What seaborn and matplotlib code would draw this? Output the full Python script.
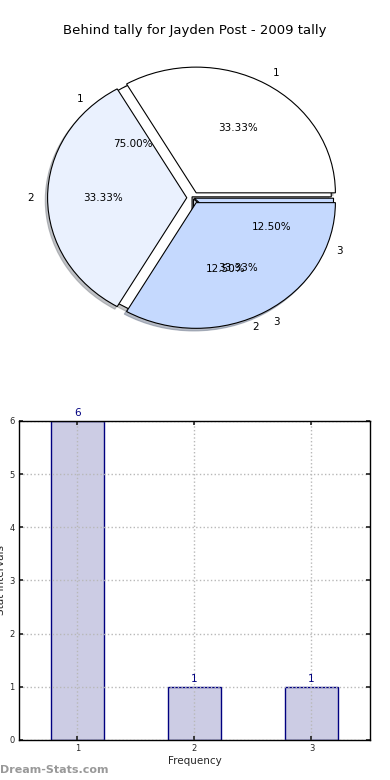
import matplotlib
matplotlib.use("Agg")
import matplotlib.pyplot as plt
import seaborn as sns
import pandas as pd

# ---- data ----
title = "Behind tally for Jayden Post - 2009 tally"
pie_a_labels = ["1", "2", "3"]
pie_a_values = [1, 1, 1]
pie_b_labels = ["1", "2", "3"]
pie_b_values = [6, 1, 1]
slice_colors = ["#ffffff", "#eaf1fe", "#c5d9fe"]

bar_categories = ["1", "2", "3"]
bar_values = [6, 1, 1]
x_label = "Frequency"
y_label = "Stat Intervals"
watermark = "Dream-Stats.com"

sns.set_theme(style="white")
plt.rcParams["font.family"] = ["DejaVu Sans"]

fig = plt.figure(figsize=(3.9, 7.8), dpi=100)

# ---- pie chart ----
ax1 = fig.add_axes([0.031, 0.537, 0.928, 0.419])
wp = dict(edgecolor="black", linewidth=0.8)
shadow = dict(ox=-0.012, oy=-0.015, shade=0.45)
ax1.pie(pie_b_values, labels=pie_b_labels, colors=slice_colors,
        explode=[0.01, 0.01, 0.01], autopct="%.2f%%", pctdistance=0.6,
        labeldistance=1.1, shadow=shadow, startangle=0, wedgeprops=wp,
        textprops=dict(fontsize=7.5, color="black"))
ax1.pie(pie_a_values, labels=pie_a_labels, colors=slice_colors,
        explode=[0.045, 0.045, 0.045], autopct="%.2f%%", pctdistance=0.6,
        labeldistance=1.1, shadow=shadow, startangle=0, wedgeprops=wp,
        textprops=dict(fontsize=7.5, color="black"))
ax1.set_aspect("auto")
ax1.set_xlim(-1.3, 1.3)
ax1.set_ylim(-1.3, 1.3)
ax1.axis("off")
fig.text(0.5, 0.961, title, ha="center", va="center", fontsize=9.5,
         color="black")

# ---- bar chart ----
ax2 = fig.add_axes([0.0487, 0.0513, 0.9, 0.409])
df = pd.DataFrame({"cat": bar_categories, "val": bar_values})
sns.barplot(data=df, x="cat", y="val", ax=ax2, color="#cccce4",
            edgecolor="#000080", linewidth=1.0, width=0.45, saturation=1)
ax2.set_xlim(-0.5, 2.5)
ax2.set_ylim(0, 6)
ax2.set_yticks(range(0, 7))
ax2.grid(True, linestyle=":", color="#b8b8b8", linewidth=1.0)
ax2.set_axisbelow(False)
for spine in ax2.spines.values():
    spine.set_color("black")
    spine.set_linewidth(1.0)
    spine.set_zorder(5)
ax2.tick_params(axis="both", labelsize=6, direction="in", length=3,
                top=True, right=True, bottom=True, left=True, pad=3)
for p, v in zip(ax2.patches, bar_values):
    ax2.text(p.get_x() + p.get_width() / 2, p.get_height() + 0.05, str(v),
             ha="center", va="bottom", color="#000080", fontsize=7.5)
ax2.set_xlabel(x_label, fontsize=7.5, labelpad=2)
ax2.set_ylabel(y_label, fontsize=7.5)
ax2.yaxis.set_label_coords(-0.037, 0.5)

fig.text(0.0, 0.006, watermark, ha="left", va="bottom", fontsize=8,
         color="#999999", fontweight="bold")

fig.savefig("out.png", dpi=100)
